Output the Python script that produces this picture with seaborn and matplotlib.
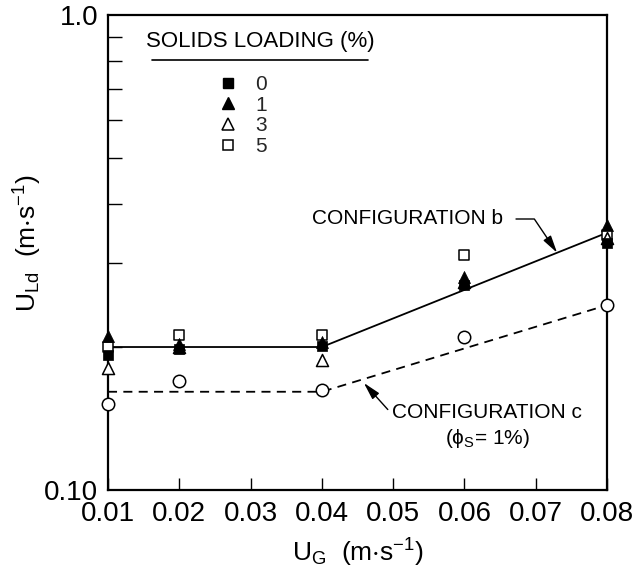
import numpy as np
import matplotlib
matplotlib.use("Agg")
import matplotlib.pyplot as plt
import seaborn as sns
from matplotlib.lines import Line2D
from matplotlib.ticker import FixedLocator, NullFormatter

# ---------------- data ----------------
ug = [0.01, 0.02, 0.04, 0.06, 0.08]
uld_0 = [0.192, 0.198, 0.201, 0.270, 0.331]   # solids loading 0 %
uld_1 = [0.211, 0.203, 0.205, 0.281, 0.361]   # solids loading 1 %
uld_3 = [0.181, 0.200, 0.188, 0.274, 0.339]   # solids loading 3 %
uld_5 = [0.200, 0.212, 0.212, 0.312, 0.344]   # solids loading 5 %
uld_c = [0.152, 0.170, 0.162, 0.210, 0.245]   # configuration c (phi_s = 1 %)

fit_b_x = [0.01, 0.04, 0.08]
fit_b_y = [0.200, 0.200, 0.348]
fit_c_x = [0.01, 0.04, 0.08]
fit_c_y = [0.161, 0.161, 0.245]

x_ticks = [0.01, 0.02, 0.03, 0.04, 0.05, 0.06, 0.07, 0.08]
x_ticklabels = ["0.01", "0.02", "0.03", "0.04", "0.05", "0.06", "0.07", "0.08"]
y_major = [0.1, 1.0]
y_major_labels = ["0.10", "1.0"]
y_minor = [0.2, 0.3, 0.4, 0.5, 0.6, 0.7, 0.8, 0.9]
legend_labels = ["0", "1", "3", "5"]

# ---------------- style ----------------
sns.set_theme(style="ticks")
plt.rcParams["font.family"] = ["Liberation Sans", "DejaVu Sans"]
plt.rcParams["mathtext.default"] = "regular"

W, H = 640, 574
fig = plt.figure(figsize=(W / 100, H / 100), dpi=100)
L, R, T, B = 108, 607, 15, 490
ax = fig.add_axes([L / W, 1 - B / H, (R - L) / W, (B - T) / H])

# fitted lines
sns.lineplot(x=fit_b_x, y=fit_b_y, color="black", lw=1.3, ax=ax, zorder=2)
sns.lineplot(x=fit_c_x, y=fit_c_y, color="black", lw=1.3, ax=ax, zorder=2,
             linestyle=(0, (5, 3.5)))

# data points
common = dict(ax=ax, clip_on=False, zorder=4, legend=False)
sns.scatterplot(x=ug, y=uld_c, marker="o", s=80, color="white",
                edgecolor="black", linewidth=1.1, **common)
sns.scatterplot(x=ug, y=uld_5, marker="s", s=50, color="white",
                edgecolor="black", linewidth=1.1, **common)
sns.scatterplot(x=ug, y=uld_3, marker="^", s=75, color="white",
                edgecolor="black", linewidth=1.1, **common)
sns.scatterplot(x=ug, y=uld_0, marker="s", s=42, color="black",
                edgecolor="black", linewidth=0.5, **common)
sns.scatterplot(x=ug, y=uld_1, marker="^", s=75, color="black",
                edgecolor="black", linewidth=0.5, **common)

# axes
ax.set_yscale("log")
ax.set_xlim(0.01, 0.08)
ax.set_ylim(0.1, 1.0)
ax.set_xticks(x_ticks)
ax.set_xticklabels(x_ticklabels)
ax.set_yticks(y_major)
ax.set_yticklabels(y_major_labels)
ax.yaxis.set_minor_locator(FixedLocator(y_minor))
ax.yaxis.set_minor_formatter(NullFormatter())
ax.xaxis.set_minor_locator(FixedLocator([]))
ax.tick_params(axis="x", which="major", direction="in", length=9, width=1.0,
               labelsize=20, pad=8, colors="black", top=False)
ax.tick_params(axis="y", which="major", direction="in", length=0,
               labelsize=20, pad=7, colors="black", right=False)
ax.tick_params(axis="y", which="minor", direction="in", length=10, width=1.0,
               right=False, colors="black")
for sp in ax.spines.values():
    sp.set_visible(True)
    sp.set_linewidth(1.6)
    sp.set_color("black")
ax.grid(False)

ax.set_xlabel("U$_G$  (m$\\cdot$s$^{-1}$)", fontsize=19, color="black")
ax.set_ylabel("U$_{Ld}$  (m$\\cdot$s$^{-1}$)", fontsize=19, color="black")
ax.xaxis.set_label_coords(0.5, -0.098)
ax.yaxis.set_label_coords(-0.128, 0.52)

# legend title with underline
fig.text(260 / W, 1 - 41 / H, "SOLIDS LOADING (%)", ha="center", va="center",
         fontsize=16, color="black")
fig.add_artist(Line2D([152 / W, 368 / W], [1 - 60 / H, 1 - 60 / H],
                      transform=fig.transFigure, color="black", lw=1.2))

handles = [
    Line2D([], [], ls="", marker="s", ms=6.5, mfc="black", mec="black"),
    Line2D([], [], ls="", marker="^", ms=8.6, mfc="black", mec="black"),
    Line2D([], [], ls="", marker="^", ms=8.6, mfc="white", mec="black", mew=1.1),
    Line2D([], [], ls="", marker="s", ms=7.0, mfc="white", mec="black", mew=1.1),
]
fs_leg = 15
fs_px = fs_leg * 100 / 72
left_px = 228 - fs_px * 0.5
ax.legend(handles, legend_labels, loc="upper left",
          bbox_to_anchor=(left_px / W, 1 - 75 / H), bbox_transform=fig.transFigure,
          frameon=False, fontsize=fs_leg, handlelength=1.0, handletextpad=0.8,
          labelspacing=0.08, borderpad=0, borderaxespad=0)

# annotations
def line_val(xq, xs, ys):
    return 10 ** np.interp(xq, xs, np.log10(ys))

xb = 0.073
ax.annotate("CONFIGURATION b", xy=(xb, line_val(xb, fit_b_x, fit_b_y)),
            xycoords="data", xytext=(312, H - 219), textcoords="figure pixels",
            ha="left", va="center", fontsize=15, color="black",
            arrowprops=dict(arrowstyle="-|>,head_length=0.7,head_width=0.18",
                            connectionstyle="angle,angleA=0,angleB=-56,rad=0",
                            relpos=(1, 0.5), shrinkA=7, shrinkB=0,
                            color="black", lw=1.0))

xc = 0.0455
ax.annotate("CONFIGURATION c", xy=(xc, line_val(xc, fit_c_x, fit_c_y)),
            xycoords="data", xytext=(392, H - 412), textcoords="figure pixels",
            ha="left", va="center", fontsize=15, color="black",
            arrowprops=dict(arrowstyle="-|>,head_length=0.7,head_width=0.18",
                            connectionstyle="angle,angleA=0,angleB=132,rad=0",
                            relpos=(0, 0.5), shrinkA=1, shrinkB=3,
                            color="black", lw=1.0))
fig.text(487 / W, 1 - 438 / H, "(ϕ$_S$= 1%)", ha="center", va="center",
         fontsize=15, color="black")

fig.savefig("out.png", dpi=100)
